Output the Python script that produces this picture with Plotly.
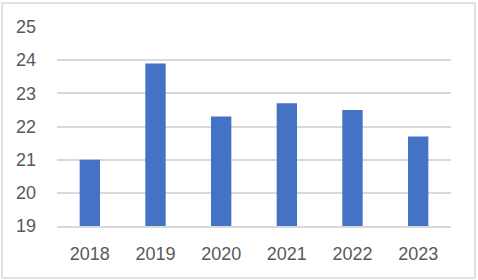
import plotly.graph_objects as go

years = ["2018", "2019", "2020", "2021", "2022", "2023"]
values = [21.0, 23.9, 22.3, 22.7, 22.5, 21.7]
y_ticks = [19, 20, 21, 22, 23, 24, 25]
axis_min, axis_max = 19, 25

fig = go.Figure(go.Bar(x=years, y=[v - axis_min for v in values],
                       base=[axis_min] * len(values),
                       marker=dict(color="#4472C4", line=dict(width=0)),
                       hoverinfo="skip"))

L, R, T, B = 57, 27, 27, 54
W, H = 478, 280
fig.update_layout(
    width=W, height=H,
    margin=dict(l=L, r=R, t=T, b=B, pad=0),
    paper_bgcolor="white", plot_bgcolor="white",
    bargap=0.69,
    showlegend=False,
    font=dict(family="Liberation Sans", size=18, color="#595959"),
    xaxis=dict(showgrid=False, showline=True, linecolor="#D9D9D9", linewidth=2,
               ticks="", ticklabelstandoff=10, tickfont=dict(size=18, color="#595959")),
    yaxis=dict(range=[axis_min, axis_max], tickvals=y_ticks, showgrid=True,
               gridcolor="#D9D9D9", gridwidth=2, zeroline=False, showline=False,
               ticks="", ticklabelstandoff=20, tickfont=dict(size=18, color="#595959")),
)
pw, ph = W - L - R, H - T - B
fig.add_shape(type="rect", xref="paper", yref="paper",
              x0=(2 - L) / pw, x1=(475 - L) / pw,
              y0=(H - 278 - B) / ph, y1=(H - 3 - B) / ph,
              line=dict(color="#D9D9D9", width=1.5), fillcolor="rgba(0,0,0,0)", layer="below")
fig.write_html("out.html")
